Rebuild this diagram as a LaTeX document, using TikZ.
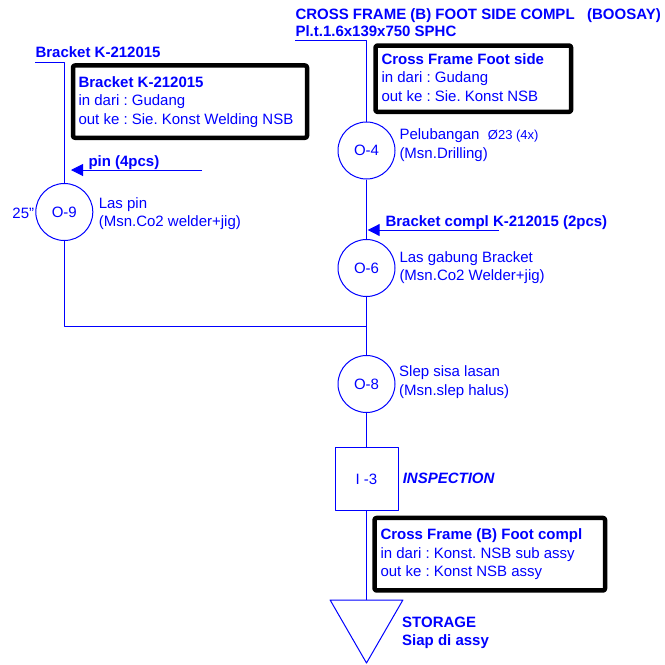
\documentclass[tikz,border=0pt]{standalone}
\usepackage{fontspec}
\setmainfont{Liberation Sans}
\usetikzlibrary{%
  arrows.meta,%
  shapes.geometric,% wg. regular polygon
  positioning%
}
\definecolor{opcblue}{RGB}{0,0,255}
\newcommand\opcfont{\fontsize{15}{18.5}\selectfont}
\newcommand\opcsmall{\fontsize{13}{18.5}\selectfont}
\frenchspacing

\begin{document}
\begin{tikzpicture}[
    x=1pt,y=-1pt,
    >={Triangle[length=12pt,width=12pt]},
    line width=1pt,line join=round,
    every node/.style={text=opcblue,font=\opcfont},
    flow/.style={draw=opcblue},
    operation/.style={circle,draw=opcblue,minimum size=57pt,inner sep=0pt},
    inspection/.style={rectangle,draw=opcblue,minimum size=63pt,inner sep=0pt},
    storage/.style={regular polygon,regular polygon sides=3,shape border rotate=180,
        draw=opcblue,minimum size=84pt,inner sep=0pt},
    infobox/.style={rectangle,draw=black,line width=4.5pt,rounded corners=2pt,inner sep=0pt},
    caption/.style={anchor=base west,align=left,inner sep=0pt},% base = last line
    bold/.style={caption,font=\opcfont\bfseries}
  ]
    \useasboundingbox (0,0) rectangle (665,665);

    % material
    \node[bold] (title)      at (295,19) {CROSS FRAME (B) FOOT SIDE COMPL\ \ \ (BOOSAY)};
    \node[bold] (material)   at (295,36) {Pl.t.1.6x139x750 SPHC};
    \node[bold] (bracketmat) at (35,57)  {Bracket K-212015};
    \coordinate (matline)     at (295,40);
    \coordinate (bracketline) at (35,62);

    % process symbols
    \node[operation]  (o4)    at (366.5,150.5) {O-4};
    \node[operation]  (o9)    at (64.3,212)    {O-9};
    \node[operation]  (o6)    at (366.5,268)   {O-6};
    \node[operation]  (o8)    at (366.5,384)   {O-8};
    \node[inspection] (i3)    at (366.5,479)   {I -3};
    \node[storage]    (store) at (366.5,621)   {};
    \coordinate (merge) at (366.5,326);

    % descriptions
    \node[caption] (o4txt) at (399,158.3) {Pelubangan\ \ {\opcsmall Ø23 (4x)}\\(Msn.Drilling)};
    \node[caption] (o9time) at (12,218) {25"};
    \node[caption] (o9txt) at (98.3,226.7) {Las pin\\(Msn.Co2 welder+jig)};
    \node[caption] (o6txt) at (399,280.5) {Las gabung Bracket\\(Msn.Co2 Welder+jig)};
    \node[caption] (o8txt) at (398.7,395) {Slep sisa lasan\\(Msn.slep halus)};
    \node[caption,font=\opcfont\bfseries\itshape] (i3txt) at (402.3,483.3) {INSPECTION};
    \node[bold] (storetxt) at (401.7,645.7) {STORAGE\\Siap di assy};

    % info boxes
    \node[infobox,minimum width=234pt,minimum height=72.3pt] (boxbracket) at (190,101.6) {};
    \node[caption] (boxbrackettxt) at (78,124)
        {\textbf{Bracket K-212015}\\in dari : Gudang\\out ke : Sie. Konst Welding NSB};
    \node[infobox,minimum width=195.6pt,minimum height=66.3pt] (boxframe) at (473.3,78.7) {};
    \node[caption] (boxframetxt) at (381,101)
        {\textbf{Cross Frame Foot side}\\in dari : Gudang\\out ke : Sie. Konst NSB};
    \node[infobox,minimum width=230.5pt,minimum height=72.5pt] (boxcompl) at (489.8,554.2) {};
    \node[caption] (boxcompltxt) at (380,576.7)
        {\textbf{Cross Frame (B) Foot compl}\\in dari : Konst. NSB sub assy\\out ke : Konst NSB assy};

    % supplied parts
    \node[bold] (pintxt)     at (88,166)    {pin (4pcs)};
    \node[bold] (bracketcpl) at (385,226.7) {Bracket compl K-212015 (2pcs)};
    \coordinate (pinfrom)     at (202,170);
    \coordinate (pinto)       at (71,170);
    \coordinate (bracketfrom) at (499,230);
    \coordinate (bracketto)   at (367.7,230);

    \begin{scope}[every path/.style=flow]
        \draw (matline) -| (o4.north);
        \draw (o4) -- (o6);
        \draw (o6) -- (o8);
        \draw (o8) -- (i3);
        \draw (i3) -- (store);
        \draw (bracketline) -| (o9.north);
        \draw (o9.south) |- (merge);
        \draw[->] (pinfrom) -- (pinto);
        \draw[->] (bracketfrom) -- (bracketto);
    \end{scope}
\end{tikzpicture}
\end{document}
